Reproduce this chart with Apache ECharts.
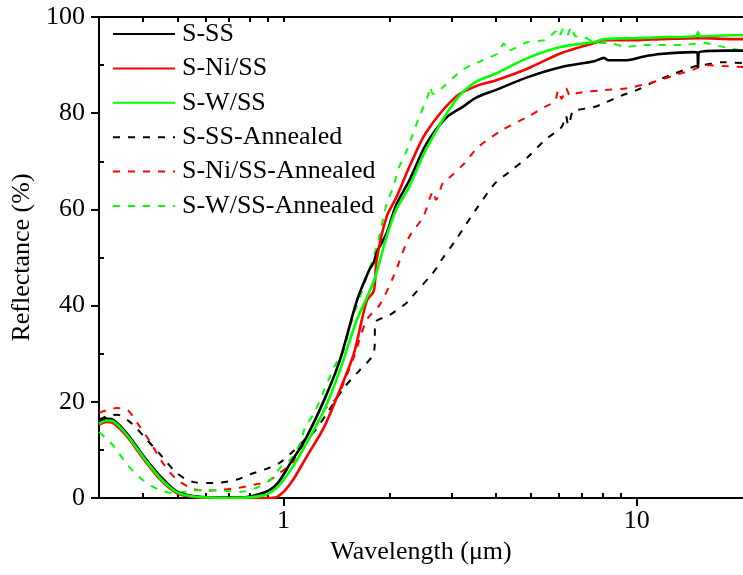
<!DOCTYPE html>
<html>
<head>
<meta charset="utf-8">
<script src="https://cdn.jsdelivr.net/npm/echarts@6/dist/echarts.min.js"></script>
<style>html,body{margin:0;padding:0;background:#fff}#c{width:743px;height:575px}</style>
</head>
<body>
<div id="c"></div>
<script>
// ---- data: [wavelength (µm), reflectance (%)] ----
const seriesNames = ['S-SS','S-Ni/SS','S-W/SS','S-SS-Annealed','S-Ni/SS-Annealed','S-W/SS-Annealed'];

const sSS = [[0.30,15.6],[0.315,16.5],[0.33,16.2],[0.361,13.3],[0.403,8.5],[0.449,4.4],[0.498,1.4],[0.556,0.4],[0.62,0.1],[0.75,0.1],[0.885,1.2],[0.962,3.1],[1.046,7.3],[1.152,12.2],[1.303,20.4],[1.444,28.7],[1.612,41],[1.75,47.5],[1.80,49],[1.834,51],[1.956,55],[2.086,61],[2.269,66],[2.532,73.5],[2.88,79],[3.214,81.3],[3.5,83.2],[3.98,84.8],[4.919,87.5],[6.125,89.6],[7.58,90.8],[8.085,91.5],[8.3,91.0],[9.376,91],[10.5,91.8],[11.68,92.3],[14.4,92.7],[14.85,92.6],[14.92,89.6],[15.0,92.6],[17.87,93],[20,93]];

const sNiSS = [[0.30,15.2],[0.315,15.8],[0.33,15.5],[0.361,12.7],[0.403,7.9],[0.449,3.7],[0.498,1.0],[0.556,0.2],[0.7,0],[0.9,0],[0.962,0.3],[1.046,3],[1.16,8.5],[1.303,14.8],[1.444,22.5],[1.581,30],[1.719,41],[1.80,43],[1.834,49.5],[1.956,58.4],[2.086,62.5],[2.269,68.8],[2.532,76],[3.07,83.4],[3.5,85.6],[3.98,86.8],[4.919,89.3],[6.125,92.5],[7.58,94.6],[8.085,95.2],[10,95.2],[11.68,95.4],[15.11,95.6],[18.81,95.4],[20,95.4]];

const sWSS = [[0.30,15.4],[0.315,16.1],[0.33,15.9],[0.361,13],[0.403,8.2],[0.449,4.0],[0.498,1.2],[0.556,0.3],[0.7,0],[0.885,0.6],[0.962,2.3],[1.046,5.8],[1.145,10.6],[1.303,18.3],[1.444,26.6],[1.612,37],[1.799,45],[1.956,54.3],[2.086,60],[2.269,64.7],[2.532,72.5],[3.07,82.7],[3.5,86.5],[3.98,88.2],[4.919,91.5],[6.125,93.8],[7.58,94.8],[8.085,95.4],[10,95.6],[11.68,95.8],[14.72,96],[14.92,96.8],[15.11,96],[18.81,96.2],[20,96.2]];

const sSSAnn = [[0.30,16.3],[0.317,17],[0.338,17.3],[0.370,15.6],[0.403,12.7],[0.449,8.9],[0.498,5.2],[0.556,3.3],[0.633,3.1],[0.666,3.2],[0.743,3.9],[0.808,5],[0.890,6],[0.974,7.3],[1.06,9.6],[1.152,12.2],[1.221,13.8],[1.345,18.3],[1.482,22.9],[1.643,26.6],[1.776,29.3],[1.81,31.4],[1.815,36.4],[1.994,38],[2.225,40.5],[2.269,41.2],[2.648,46.8],[2.75,48.5],[2.8,49.5],[3.07,53.6],[3.5,59.9],[3.98,65.5],[4.324,67.6],[4.919,70.9],[5.49,74.4],[6.125,77.1],[6.3,79.5],[6.4,77.5],[6.6,80.5],[6.79,80.7],[7.58,81.3],[8.085,82.1],[9.02,83.6],[10,84.8],[11.2,86.5],[12.45,87.9],[14.72,89.8],[15.4,90],[17.52,90.6],[20,90.4]];

const sNiSSAnn = [[0.30,17.7],[0.317,18.3],[0.336,18.7],[0.361,18.3],[0.385,15.6],[0.421,11.4],[0.449,7.9],[0.489,4.4],[0.545,2.1],[0.601,1.5],[0.666,1.7],[0.743,2.1],[0.819,2.7],[0.902,3.5],[0.974,5.2],[1.06,7.3],[1.094,9.4],[1.19,12.7],[1.303,18.3],[1.417,21],[1.581,29.3],[1.719,37],[1.869,40.1],[2.046,46],[2.269,54.3],[2.483,58.4],[2.6,62.5],[2.65,63.8],[2.70,62],[2.825,65.5],[2.937,66.5],[3.25,69.6],[3.563,73],[4.16,76.5],[4.919,79.3],[5.49,81.3],[5.86,82.5],[6.0,84.8],[6.125,83],[6.3,85.2],[6.5,83.5],[6.79,84.2],[8.085,84.8],[9.376,85.2],[11.2,86.5],[12.94,88],[14.4,89],[15.7,90],[17.52,89.8],[20,89.6]];

const sWSSAnn = [[0.30,13.7],[0.311,12.7],[0.332,10.6],[0.361,6.9],[0.395,4],[0.438,1.9],[0.489,1.0],[0.545,1.5],[0.605,1.7],[0.683,1.5],[0.758,1.3],[0.835,2.1],[0.914,3.7],[0.981,6.4],[1.06,8.5],[1.116,11.6],[1.152,14.8],[1.221,17.7],[1.39,27.2],[1.482,30.8],[1.541,35.6],[1.834,52.2],[1.956,61],[2.05,65],[2.13,69],[2.225,72],[2.42,79.2],[2.56,83.5],[2.6,85.5],[2.65,84],[2.825,85.4],[3.214,89],[3.656,91],[4.055,92.5],[4.2,94.5],[4.3,93],[4.919,94.8],[5.49,95.2],[5.743,96.3],[5.9,97],[6.0,95.8],[6.2,97.5],[6.35,96.2],[6.533,98],[6.7,96],[7.105,95.8],[7.58,94.8],[8.458,94.5],[9.376,93.8],[10.46,94.2],[13.54,94.2],[15.4,94.6],[17.52,93.8],[20,93]];

// ---- ticks ----
const xMajorTicks = [1, 10];
const xMinorTicks = [0.4,0.5,0.6,0.7,0.8,0.9,2,3,4,5,6,7,8,9];
const yMajorTicks = [0,20,40,60,80,100];
const yMinorTicks = [10,30,50,70,90];

const FONT = '"Liberation Serif","Times New Roman",serif';
const seriesData = [sSS, sNiSS, sWSS, sSSAnn, sNiSSAnn, sWSSAnn];
const colors = ['#000000','#ff0000','#00ff00','#000000','#ff0000','#00ff00'];
const dashed = [false,false,false,true,true,true];

const chart = echarts.init(document.getElementById('c'), null, {renderer:'canvas'});
const axisLineStyle = {color:'#000', width:2};

chart.setOption({
  animation: false,
  backgroundColor: '#fff',
  grid: {left: 99, top: 17, right: -7, bottom: 77, containLabel: false},
  legend: {
    orient: 'vertical', left: 107, top: 16,
    itemWidth: 62, itemHeight: 14, itemGap: 8.4,
    itemStyle: {opacity: 0},
    textStyle: {fontFamily: FONT, fontSize: 26, color: '#000', lineHeight: 26, padding:[0,0,0,2]},
    data: seriesNames
  },
  xAxis: [
    {type:'log', logBase:10, min:0.3, max:20, position:'bottom',
     axisLine:{onZero:false, lineStyle:axisLineStyle},
     axisTick:{customValues:xMajorTicks, length:8, lineStyle:{width:2,color:'#000'}},
     axisLabel:{customValues:xMajorTicks, fontFamily:FONT, fontSize:26, color:'#000', margin:10},
     splitLine:{show:false},
     name:'Wavelength (μm)', nameLocation:'middle', nameGap:40,
     nameTextStyle:{fontFamily:FONT, fontSize:26, color:'#000'}},
    {type:'log', logBase:10, min:0.3, max:20, position:'bottom',
     axisLine:{show:false, onZero:false},
     axisTick:{customValues:xMinorTicks, inside:true, length:5, lineStyle:{width:2,color:'#000'}},
     axisLabel:{show:false}, splitLine:{show:false}},
    {type:'log', logBase:10, min:0.3, max:20, position:'top',
     axisLine:{onZero:false, lineStyle:axisLineStyle},
     axisTick:{customValues:xMinorTicks.concat(xMajorTicks), inside:true, length:5, lineStyle:{width:2,color:'#000'}},
     axisLabel:{show:false}, splitLine:{show:false}}
  ],
  yAxis: [
    {type:'value', min:0, max:100, interval:20, position:'left',
     axisLine:{show:true, onZero:false, lineStyle:axisLineStyle},
     axisTick:{customValues:yMajorTicks, length:8, lineStyle:{width:2,color:'#000'}},
     axisLabel:{customValues:yMajorTicks, fontFamily:FONT, fontSize:26, color:'#000', margin:14},
     splitLine:{show:false},
     name:'Reflectance (%)', nameLocation:'middle', nameGap:62,
     nameTextStyle:{fontFamily:FONT, fontSize:26, color:'#000'}},
    {type:'value', min:0, max:100, position:'left',
     axisLine:{show:false, onZero:false},
     axisTick:{customValues:yMinorTicks, inside:true, length:5, lineStyle:{width:2,color:'#000'}},
     axisLabel:{show:false}, splitLine:{show:false}}
  ],
  series: seriesNames.map((name,i)=>({
    name, type:'line', xAxisIndex:0, yAxisIndex:0,
    data: seriesData[i], symbol:'none', showSymbol:false,
    smooth: 0.3, clip: true,
    z: dashed[i] ? 2 : 3,
    lineStyle:{color:colors[i], width: dashed[i] ? 2 : 2.6, type: dashed[i] ? [7,8] : 'solid'},
    itemStyle:{color:colors[i]}
  }))
});
</script>
</body>
</html>
